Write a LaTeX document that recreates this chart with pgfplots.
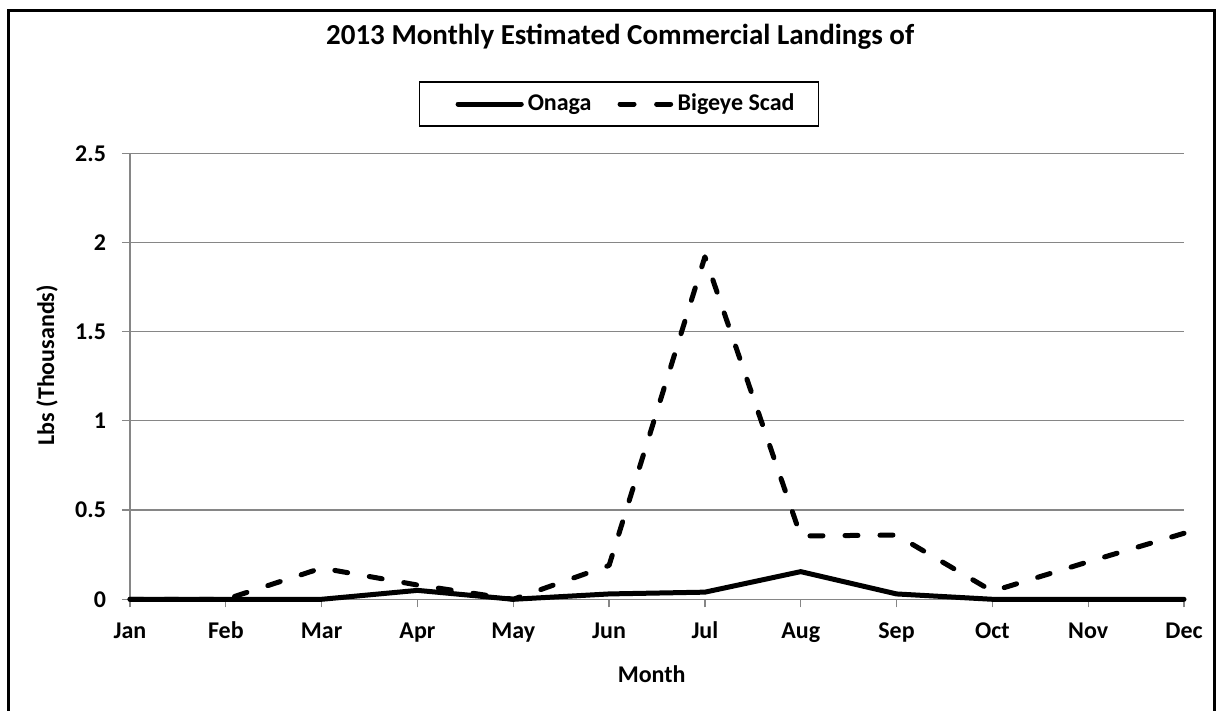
\documentclass[border=0pt]{standalone}
\usepackage{fontspec}
\setmainfont{Carlito}
\usepackage{pgfplots}
\pgfplotsset{compat=1.18}

\definecolor{gridgray}{RGB}{134,134,134}

\pgfplotsset{
  solidleg/.style={legend image code/.code={\path (-8pt,0pt);\draw[##1] (0pt,0pt) -- (31.6pt,0pt);}},
  dashleg/.style={legend image code/.code={\draw[##1, dash pattern=on 7pt off 11.3pt] (1.25pt,0pt) -- (26.8pt,0pt);}},
}

\begin{document}
\begin{tikzpicture}
\useasboundingbox (0,0) rectangle (611pt,355.5pt);
% outer chart frame
\draw[line width=1.5pt, black] (4pt,-3pt) rectangle (607pt,350.35pt);

\begin{axis}[
  at={(65pt,55.85pt)}, anchor=south west,
  scale only axis,
  width=527pt, height=223pt,
  xmin=0, xmax=11,
  ymin=0, ymax=2.5,
  clip=false,
  axis lines*=left,
  axis line style={gridgray, line width=0.6pt},
  every inner x axis line/.append style={-},
  every inner y axis line/.append style={-},
  tick align=outside,
  major tick length=4pt,
  tick style={gridgray, line width=0.6pt},
  xtick={0,...,11},
  xticklabels={Jan,Feb,Mar,Apr,May,Jun,Jul,Aug,Sep,Oct,Nov,Dec},
  ytick={0,0.5,1,1.5,2,2.5},
  yticklabels={0,0.5,1,1.5,2,2.5},
  ymajorgrids,
  grid style={gridgray, line width=0.6pt},
  ticklabel style={font=\fontsize{12}{14}\selectfont\bfseries},
  xticklabel style={text height=8pt, text depth=2.5pt, yshift=-4pt},
  yticklabel style={xshift=-4.5pt},
  /pgf/number format/assume math mode=true,
  title={2013 Monthly Estimated Commercial Landings of},
  title style={at={(axis description cs:0.465,1.218)}, anchor=base,
    font=\fontsize{14.5}{17}\selectfont\bfseries},
  xlabel={Month},
  xlabel style={at={(axis description cs:0.495,-0.1675)}, anchor=center,
    font=\fontsize{12}{14}\selectfont\bfseries},
  ylabel={Lbs (Thousands)},
  ylabel style={at={(axis description cs:-0.0787,0.525)}, anchor=center,
    font=\fontsize{12}{14}\selectfont\bfseries},
  legend columns=2,
  legend style={at={(axis description cs:0.464,1.1105)}, anchor=center,
    draw=black, line width=0.6pt, inner xsep=10pt, inner ysep=4pt,
    font=\fontsize{12}{14}\selectfont\bfseries,
    /tikz/every even column/.append style={column sep=11pt}},
]

\addplot[black, line width=2.5pt, line cap=round, line join=round, solidleg]
  coordinates {
  (0,0) (1,0) (2,0) (3,0.05) (4,0) (5,0.03)
  (6,0.04) (7,0.155) (8,0.03) (9,0) (10,0) (11,0)
};
\addlegendentry{Onaga}

\addplot[black, line width=2.5pt, line cap=round, line join=round,
  dash pattern=on 6.5pt off 11pt, dashleg]
  coordinates {
  (0,0) (1,0) (2,0.175) (3,0.08) (4,0) (5,0.19)
  (6,1.92) (7,0.355) (8,0.36) (9,0.045) (10,0.21) (11,0.37)
};
\addlegendentry{Bigeye Scad}

\end{axis}
\end{tikzpicture}
\end{document}
